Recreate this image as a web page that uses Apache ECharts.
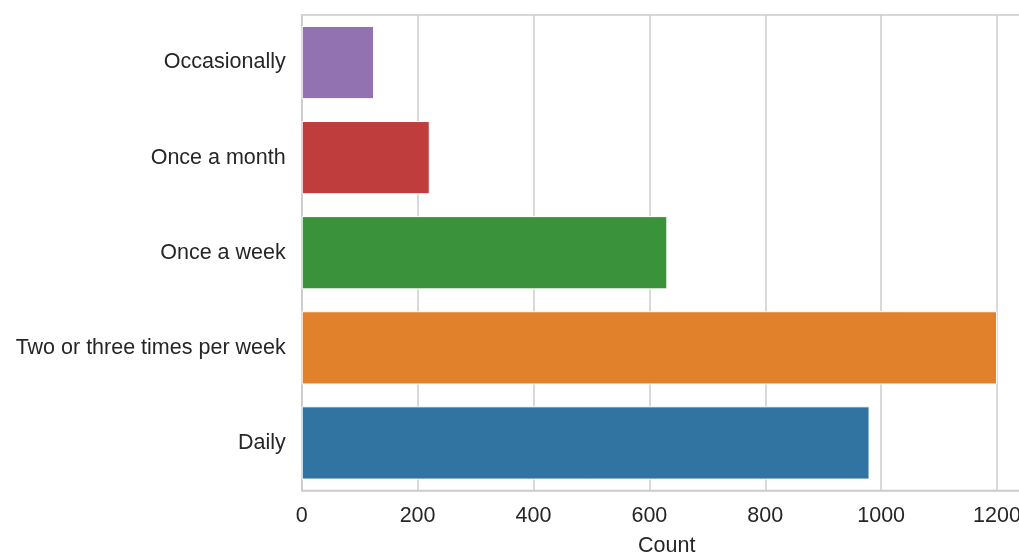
<!DOCTYPE html>
<html>
<head>
<meta charset="utf-8">
<script src="https://cdn.jsdelivr.net/npm/echarts@6/dist/echarts.min.js"></script>
<style>
html,body{margin:0;padding:0;background:#fff;}
#c{width:1019px;height:554px;}
</style>
</head>
<body>
<div id="c"></div>
<script>
// bottom-to-top order
const categories = ['Daily', 'Two or three times per week', 'Once a week', 'Once a month', 'Occasionally'];
const counts = [980, 1200, 631, 221, 125];
const barColors = ['#3274a1', '#e1812c', '#3a923a', '#c03d3e', '#9372b2'];
const xTicks = [0, 200, 400, 600, 800, 1000, 1200];
const xTitle = 'Count';

const chart = echarts.init(document.getElementById('c'), null, {renderer: 'canvas'});
const font = '"Liberation Sans", Arial, sans-serif';
chart.setOption({
  animation: false,
  backgroundColor: '#ffffff',
  grid: {
    left: 301.7, top: 15, bottom: 63.5, right: -12.8,
    outerBoundsMode: 'none',
    containLabel: false,
    show: true, borderColor: '#cccccc', borderWidth: 1.5, backgroundColor: 'transparent'
  },
  xAxis: {
    type: 'value',
    min: 0, max: 1260, interval: 200,
    name: xTitle, nameLocation: 'middle', nameGap: 45,
    nameTextStyle: {fontFamily: font, fontSize: 21.5, color: '#262626'},
    axisLine: {show: true, lineStyle: {color: '#cccccc', width: 1.5}},
    axisTick: {show: false},
    axisLabel: {
      fontFamily: font, fontSize: 21.5, color: '#262626', margin: 15,
      formatter: v => xTicks.includes(v) ? String(v) : ''
    },
    splitLine: {show: true, lineStyle: {color: '#cccccc', width: 1.5}}
  },
  yAxis: {
    type: 'category',
    data: categories,
    axisLine: {show: true, lineStyle: {color: '#cccccc', width: 1.5}},
    axisTick: {show: false},
    axisLabel: {fontFamily: font, fontSize: 21.5, color: '#262626', margin: 16, padding: [4, 0, 0, 0]},
    splitLine: {show: false}
  },
  series: [{
    type: 'bar',
    data: counts.map((v, i) => ({value: v, itemStyle: {color: barColors[i]}})),
    barCategoryGap: '23%',
    itemStyle: {borderColor: '#ffffff', borderWidth: 1}
  }]
});
</script>
</body>
</html>
